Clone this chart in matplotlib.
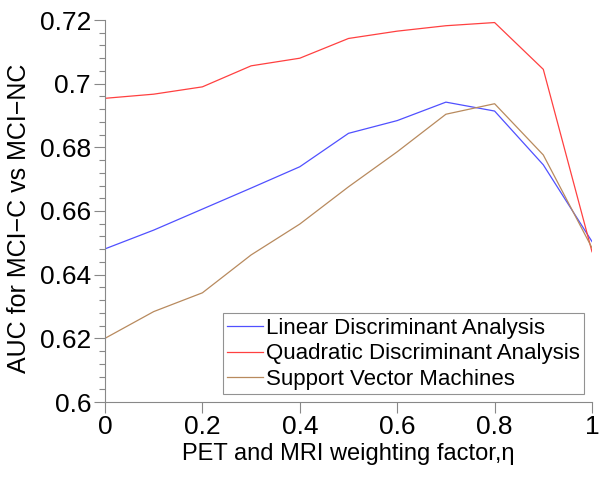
import numpy as np
import matplotlib
matplotlib.use("Agg")
import matplotlib.pyplot as plt
from matplotlib.ticker import MultipleLocator

plt.rcParams['font.family'] = ['Liberation Sans', 'DejaVu Sans']

# PET/MRI weighting factor
eta = [0.0, 0.1, 0.2, 0.3, 0.4, 0.5, 0.6, 0.7, 0.8, 0.9, 1.0]

# AUC values
lda = [0.6481, 0.6540, 0.6606, 0.6672, 0.6739, 0.6844, 0.6884, 0.6942, 0.6914, 0.6745, 0.6504]
qda = [0.6954, 0.6967, 0.6990, 0.7056, 0.7080, 0.7142, 0.7165, 0.7182, 0.7192, 0.7045, 0.6472]
svm = [0.6200, 0.6284, 0.6343, 0.6462, 0.6559, 0.6676, 0.6786, 0.6904, 0.6937, 0.6776, 0.6484]

series_names = ["Linear Discriminant Analysis",
                "Quadratic Discriminant Analysis",
                "Support Vector Machines"]

xticks = [0, 0.2, 0.4, 0.6, 0.8, 1.0]
xticklabels = ["0", "0.2", "0.4", "0.6", "0.8", "1"]
yticks = [0.6, 0.62, 0.64, 0.66, 0.68, 0.7, 0.72]
yticklabels = ["0.6", "0.62", "0.64", "0.66", "0.68", "0.7", "0.72"]

fig = plt.figure(figsize=(6.04, 4.78), dpi=100)
ax = fig.add_axes([105/604, 1 - 402/478, 487/604, 382/478])

ax.plot(eta, lda, color="#5050ff", lw=0.9, label=series_names[0])
ax.plot(eta, qda, color="#ff4040", lw=0.9, label=series_names[1])
ax.plot(eta, svm, color="#b88a5e", lw=0.9, label=series_names[2])

ax.set_xlim(0, 1)
ax.set_ylim(0.6, 0.72)
ax.set_xticks(xticks)
ax.set_xticklabels(xticklabels)
ax.set_yticks(yticks)
ax.set_yticklabels(yticklabels)
ax.yaxis.set_minor_locator(MultipleLocator(0.004))

for s in ["top", "right"]:
    ax.spines[s].set_visible(False)
for s in ["left", "bottom"]:
    ax.spines[s].set_color("#888888")
    ax.spines[s].set_linewidth(0.8)

ax.tick_params(axis="both", which="major", direction="out", length=8, width=0.8,
               color="#888888", labelsize=19, pad=2)
ax.tick_params(axis="x", which="major", pad=1)
ax.tick_params(axis="y", which="minor", direction="out", length=4, width=0.8,
               color="#888888")

ax.set_xlabel("PET and MRI weighting factor,η", fontsize=17, labelpad=3)
ax.set_ylabel("AUC for MCI\u2212C vs MCI\u2212NC", fontsize=18)
ax.yaxis.set_label_coords(-0.152, 0.48)

leg = ax.legend(loc="lower right", fontsize=16, frameon=True, fancybox=False,
                handlelength=1.6, handletextpad=0.15, borderpad=0.2,
                labelspacing=0.2, borderaxespad=0.35)
leg.get_frame().set_edgecolor("#777777")
leg.get_frame().set_linewidth(0.8)

fig.savefig("out.png", dpi=100)
